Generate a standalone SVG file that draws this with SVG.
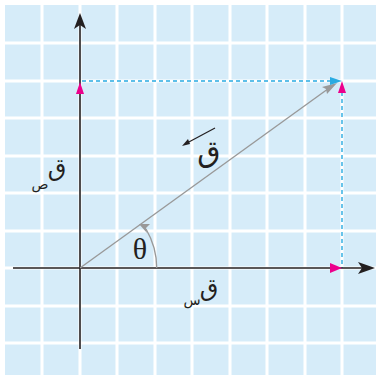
<svg xmlns="http://www.w3.org/2000/svg" width="376" height="375" viewBox="0 0 376 375">
<defs>
<style>
.grid{stroke:#fff;stroke-width:3}
.axis{stroke:#231f20;stroke-width:1.6;fill:none}
.dash{stroke:#29abe2;stroke-width:1.4;stroke-dasharray:4 3;fill:none}
.vec{stroke:#999;stroke-width:1.4;fill:none}
.ar{font-family:"DejaVu Sans",sans-serif;fill:#231f20}
</style>
</defs>
<rect x="0" y="0" width="376" height="375" fill="#fff"/>
<rect x="5" y="5" width="371" height="370" fill="#d6ecf9"/>
<g id="grid" class="grid">
<line x1="42" y1="5" x2="42" y2="375"/>
<line x1="80" y1="5" x2="80" y2="375"/>
<line x1="117" y1="5" x2="117" y2="375"/>
<line x1="155" y1="5" x2="155" y2="375"/>
<line x1="192" y1="5" x2="192" y2="375"/>
<line x1="230" y1="5" x2="230" y2="375"/>
<line x1="267" y1="5" x2="267" y2="375"/>
<line x1="305" y1="5" x2="305" y2="375"/>
<line x1="342" y1="5" x2="342" y2="375"/>
<line x1="5" y1="43" x2="376" y2="43"/>
<line x1="5" y1="81" x2="376" y2="81"/>
<line x1="5" y1="118" x2="376" y2="118"/>
<line x1="5" y1="156" x2="376" y2="156"/>
<line x1="5" y1="193" x2="376" y2="193"/>
<line x1="5" y1="231" x2="376" y2="231"/>
<line x1="5" y1="268" x2="376" y2="268"/>
<line x1="5" y1="306" x2="376" y2="306"/>
<line x1="5" y1="343" x2="376" y2="343"/>
</g>
<g id="connectors">
<line class="dash" x1="82" y1="81" x2="332" y2="81"/>
<line class="dash" x1="342" y1="92" x2="342" y2="268"/>
<line class="axis" x1="13" y1="268" x2="362" y2="268"/>
<path d="M375,268 L358,262 L362,268 L358,274 Z" fill="#231f20"/>
<line class="axis" x1="80" y1="349" x2="80" y2="25"/>
<path d="M80,13 L74,29 L80,25 L86,29 Z" fill="#231f20"/>
<line class="vec" x1="80" y1="268" x2="332" y2="86"/>
<path d="M337,83 L322,87 L326,89 L327,94 Z" fill="#999"/>
<path class="vec" d="M156.7,268 A77,77 0 0 0 146,229"/>
<path d="M139,224 L150,224 L146,228 L147,233 Z" fill="#999"/>
<path d="M80,82 L76,94 L84,94 Z" fill="#ec008c"/>
<path d="M342,268 L330,263 L330,273 Z" fill="#ec008c"/>
<path d="M342,81 L338,93 L346,93 Z" fill="#ec008c"/>
<path d="M342,81 L330,77 L330,85 Z" fill="#29abe2"/>
<line x1="215" y1="128" x2="187" y2="143" stroke="#231f20" stroke-width="1.2"/>
<path d="M182,146 L188,139 L190,144 Z" fill="#231f20"/>
</g>
<g id="theta"><text x="140" y="259" font-family="Liberation Serif,serif" font-size="30" text-anchor="middle" fill="#231f20">θ</text></g>
<g id="label-F"><text class="ar" x="209" y="162" font-size="30" text-anchor="middle">ق</text></g>
<g id="label-Fy"><text class="ar" x="57" y="176" font-size="24" text-anchor="middle">ق</text><text class="ar" x="40" y="189" font-size="14" text-anchor="middle">ص</text></g>
<g id="label-Fx"><text class="ar" x="209" y="296" font-size="24" text-anchor="middle">ق</text><text class="ar" x="192" y="305" font-size="14" text-anchor="middle">س</text></g>
</svg>
